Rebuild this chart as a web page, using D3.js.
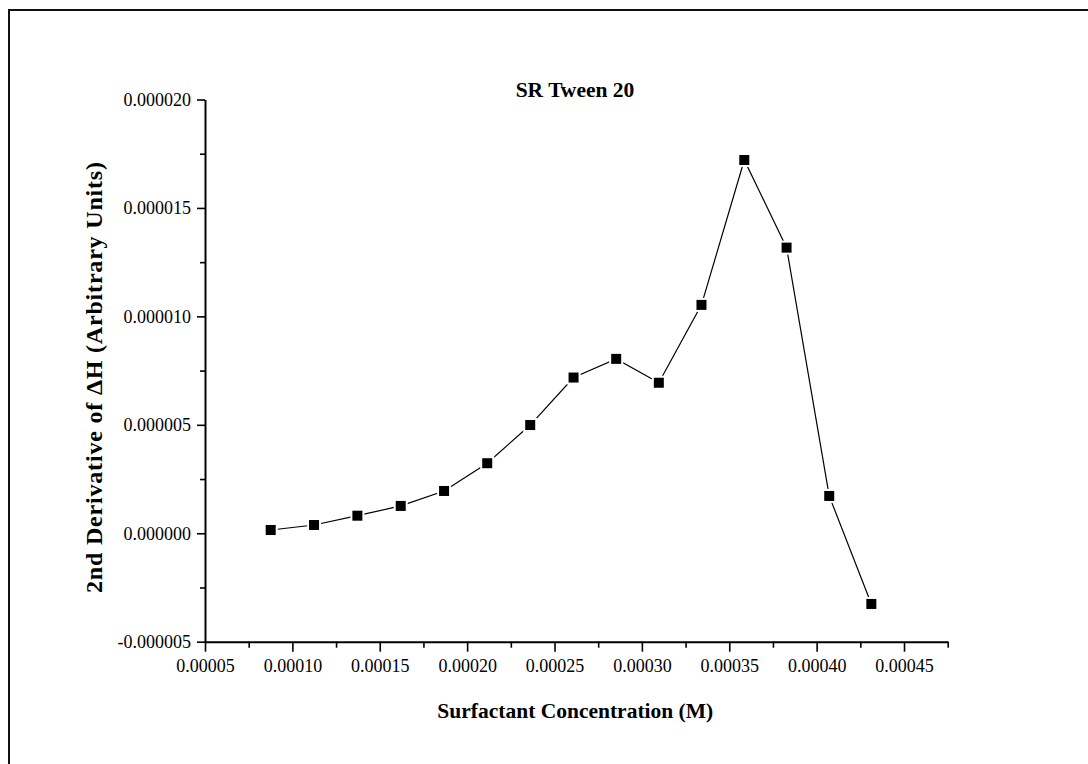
<!DOCTYPE html>
<html><head><meta charset="utf-8">
<script src="https://cdn.jsdelivr.net/npm/d3@7"></script>
<style>body{margin:0;background:#fff}svg{display:block}</style>
</head><body>
<svg id="c" width="1088" height="764"></svg>
<script>
const title = "SR Tween 20";
const xTitle = "Surfactant Concentration (M)";
const yTitle = "2nd Derivative of ΔH (Arbitrary Units)";
const concentration = [0.0000876, 0.0001124, 0.0001372, 0.0001620, 0.0001868, 0.0002115, 0.0002361, 0.0002609, 0.0002853, 0.0003097, 0.0003341, 0.0003586, 0.0003828, 0.0004072, 0.0004313];
const derivative = [0.00000015, 0.00000038, 0.00000081, 0.00000126, 0.00000195, 0.00000323, 0.00000499, 0.00000718, 0.00000804, 0.00000694, 0.00001053, 0.00001721, 0.00001317, 0.00000172, -0.00000326];
const xTicks = [0.00005, 0.00010, 0.00015, 0.00020, 0.00025, 0.00030, 0.00035, 0.00040, 0.00045];
const xMinor = [0.000075, 0.000125, 0.000175, 0.000225, 0.000275, 0.000325, 0.000375, 0.000425, 0.000475];
const yTicks = [-0.000005, 0.000000, 0.000005, 0.000010, 0.000015, 0.000020];
const yMinor = [-0.0000025, 0.0000025, 0.0000075, 0.0000125, 0.0000175];

const svg = d3.select("#c");
const font = "'Liberation Serif','Times New Roman',serif";
const x = d3.scaleLinear().domain([0.00005, 0.000475]).range([205, 947.7]);
const y = d3.scaleLinear().domain([-0.000005, 0.000020]).range([641.7, 99.5]);
const fx = d => d3.format(".5f")(d).replace("\u2212", "-");
const fy = d => d3.format(".6f")(d).replace("\u2212", "-");

// frame (cropped top/left border)
svg.append("rect").attr("x", 9).attr("y", 10).attr("width", 1200).attr("height", 900)
  .attr("fill", "none").attr("stroke", "#111").attr("stroke-width", 2);

// x axis
const gx = svg.append("g").attr("transform", `translate(0,${y(-0.000005)})`);
gx.call(d3.axisBottom(x).tickValues(xTicks).tickFormat(fx).tickSize(10).tickPadding(8).tickSizeOuter(0));
gx.append("g").call(d3.axisBottom(x).tickValues(xMinor).tickFormat("").tickSize(6).tickSizeOuter(0))
  .select(".domain").remove();
// y axis
const gy = svg.append("g").attr("transform", `translate(${x(0.00005)},0)`);
gy.call(d3.axisLeft(y).tickValues(yTicks).tickFormat(fy).tickSize(8).tickPadding(6).tickSizeOuter(0));
gy.append("g").call(d3.axisLeft(y).tickValues(yMinor).tickFormat("").tickSize(5).tickSizeOuter(0))
  .select(".domain").remove();

svg.selectAll(".domain").attr("stroke", "#000").attr("stroke-width", 2);
svg.selectAll(".tick line").attr("stroke", "#000").attr("stroke-width", 1.6);
svg.selectAll(".tick text").attr("font-family", font).attr("font-size", 18).attr("fill", "#000");
gy.selectAll(".tick text").attr("dy", "0.32em");

// line
const pts = concentration.map((c, i) => [c, derivative[i]]);
svg.append("path").datum(pts)
  .attr("d", d3.line().x(d => x(d[0])).y(d => y(d[1])))
  .attr("fill", "none").attr("stroke", "#000").attr("stroke-width", 1.2);
// marker halos + markers
svg.append("g").selectAll("rect").data(pts).join("rect")
  .attr("x", d => x(d[0]) - 7).attr("y", d => y(d[1]) - 7)
  .attr("width", 14).attr("height", 14).attr("fill", "#fff");
svg.append("g").selectAll("rect").data(pts).join("rect")
  .attr("x", d => x(d[0]) - 5).attr("y", d => y(d[1]) - 5)
  .attr("width", 10).attr("height", 10).attr("fill", "#000");

// titles
svg.append("text").attr("x", 575).attr("y", 97).attr("text-anchor", "middle")
  .attr("font-family", font).attr("font-weight", "bold").attr("font-size", 21.5).text(title);
svg.append("text").attr("x", 575.3).attr("y", 718).attr("text-anchor", "middle")
  .attr("font-family", font).attr("font-weight", "bold").attr("font-size", 21.5).text(xTitle);
svg.append("text").attr("transform", "translate(102,377.5) rotate(-90)").attr("text-anchor", "middle")
  .attr("font-family", font).attr("font-weight", "bold").attr("font-size", 24)
  .attr("textLength", 431).attr("lengthAdjust", "spacing").text(yTitle);
</script>
</body></html>
